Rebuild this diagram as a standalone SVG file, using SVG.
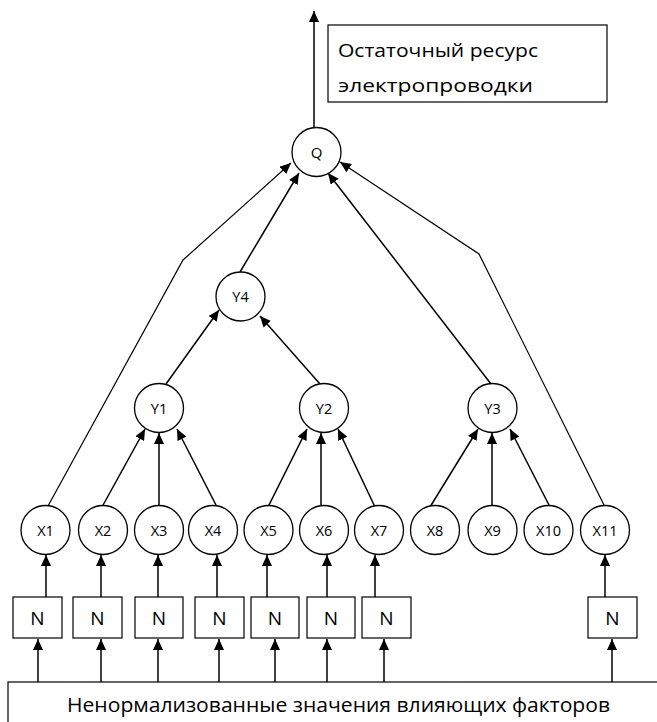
<svg xmlns="http://www.w3.org/2000/svg" width="657" height="722" viewBox="0 0 657 722">
<style>
.nd{fill:#fff;stroke:#000;stroke-width:1.3}
.bx{fill:#fff;stroke:#000;stroke-width:1.2}
.t{font-family:"Open Sans","Noto Sans","Liberation Sans",sans-serif;fill:#000;text-anchor:middle;dominant-baseline:central}
.s{font-size:14.5px}
.c{stroke:#000;stroke-width:1.5;fill:none;marker-end:url(#ah)}
.p{stroke:#000;stroke-width:1.2;fill:none;marker-end:url(#ah)}
</style>
<defs>
<marker id="ah" markerUnits="userSpaceOnUse" markerWidth="12" markerHeight="10" refX="11" refY="5" orient="auto">
<path d="M0,0 L11,5 L0,10 Z" fill="#000"/>
</marker>
</defs>
<rect width="657" height="722" fill="#fff"/>
<g id="connectors">
<line class="c" x1="314" y1="128" x2="314" y2="11"/>
<polyline class="p" points="48,506 183,260 291,163"/>
<polyline class="p" points="605,507 479,254 340,162"/>
<line class="c" x1="240" y1="272" x2="299" y2="173"/>
<line class="c" x1="491" y1="384" x2="328" y2="173"/>
<line class="c" x1="166" y1="384" x2="219" y2="310"/>
<line class="c" x1="320" y1="384" x2="260" y2="316"/>
<line class="c" x1="102" y1="507" x2="145" y2="429"/>
<line class="c" x1="159" y1="507" x2="159" y2="433"/>
<line class="c" x1="217" y1="507" x2="177" y2="429"/>
<line class="c" x1="268" y1="507" x2="307" y2="429"/>
<line class="c" x1="321" y1="507" x2="321" y2="433"/>
<line class="c" x1="375" y1="507" x2="338" y2="429"/>
<line class="c" x1="430" y1="507" x2="478" y2="429"/>
<line class="c" x1="492" y1="507" x2="492" y2="433"/>
<line class="c" x1="550" y1="507" x2="510" y2="429"/>
<line class="c" x1="46" y1="597" x2="46" y2="555"/>
<line class="c" x1="101" y1="597" x2="101" y2="555"/>
<line class="c" x1="158" y1="597" x2="158" y2="555"/>
<line class="c" x1="217" y1="597" x2="217" y2="555"/>
<line class="c" x1="267" y1="597" x2="267" y2="555"/>
<line class="c" x1="327" y1="597" x2="327" y2="555"/>
<line class="c" x1="375" y1="597" x2="375" y2="555"/>
<line class="c" x1="605" y1="597" x2="605" y2="555"/>
<line class="c" x1="38" y1="682" x2="38" y2="639"/>
<line class="c" x1="101" y1="682" x2="101" y2="639"/>
<line class="c" x1="158" y1="682" x2="158" y2="639"/>
<line class="c" x1="219" y1="682" x2="219" y2="639"/>
<line class="c" x1="275" y1="682" x2="275" y2="639"/>
<line class="c" x1="327" y1="682" x2="327" y2="639"/>
<line class="c" x1="384" y1="682" x2="384" y2="639"/>
<line class="c" x1="612" y1="682" x2="612" y2="639"/>
</g>
<g id="output-label">
<rect class="bx" x="328" y="25" width="279" height="77"/>
<text class="t" x="338" y="50" style="text-anchor:start;font-size:19px" textLength="200" lengthAdjust="spacingAndGlyphs">Остаточный ресурс</text>
<text class="t" x="338" y="85" style="text-anchor:start;font-size:19px" textLength="195" lengthAdjust="spacingAndGlyphs">электропроводки</text>
</g>
<g id="Q"><circle class="nd" cx="316.5" cy="152" r="24.5"/><text class="t" x="316.5" y="152" style="font-size:15px">Q</text></g>
<g id="Y4"><circle class="nd" cx="240.5" cy="296.5" r="24.5"/><text class="t s" x="240.5" y="296.5">Y4</text></g>
<g id="Y1"><circle class="nd" cx="159" cy="408" r="24.5"/><text class="t s" x="159" y="408">Y1</text></g>
<g id="Y2"><circle class="nd" cx="324" cy="408" r="24.5"/><text class="t s" x="324" y="408">Y2</text></g>
<g id="Y3"><circle class="nd" cx="492.5" cy="408" r="24.5"/><text class="t s" x="492.5" y="408">Y3</text></g>
<g id="X1"><circle class="nd" cx="45.5" cy="530" r="24.5"/><text class="t s" x="45.5" y="530">X1</text></g>
<g id="X2"><circle class="nd" cx="103" cy="530" r="24.5"/><text class="t s" x="103" y="530">X2</text></g>
<g id="X3"><circle class="nd" cx="159" cy="530" r="24.5"/><text class="t s" x="159" y="530">X3</text></g>
<g id="X4"><circle class="nd" cx="213" cy="530" r="24.5"/><text class="t s" x="213" y="530">X4</text></g>
<g id="X5"><circle class="nd" cx="268.5" cy="530" r="24.5"/><text class="t s" x="268.5" y="530">X5</text></g>
<g id="X6"><circle class="nd" cx="324" cy="530" r="24.5"/><text class="t s" x="324" y="530">X6</text></g>
<g id="X7"><circle class="nd" cx="379" cy="530" r="24.5"/><text class="t s" x="379" y="530">X7</text></g>
<g id="X8"><circle class="nd" cx="435" cy="530" r="24.5"/><text class="t s" x="435" y="530">X8</text></g>
<g id="X9"><circle class="nd" cx="492.5" cy="530" r="24.5"/><text class="t s" x="492.5" y="530">X9</text></g>
<g id="X10"><circle class="nd" cx="548.5" cy="530" r="24.5"/><text class="t s" x="548.5" y="530">X10</text></g>
<g id="X11"><circle class="nd" cx="605" cy="530" r="24.5"/><text class="t s" x="605" y="530">X11</text></g>
<g id="N1"><rect class="bx" x="13" y="597" width="49" height="41"/><text class="t" x="37.5" y="617.5" style="font-size:19px">N</text></g>
<g id="N2"><rect class="bx" x="73" y="597" width="49" height="41"/><text class="t" x="97.5" y="617.5" style="font-size:19px">N</text></g>
<g id="N3"><rect class="bx" x="135" y="597" width="48" height="41"/><text class="t" x="159" y="617.5" style="font-size:19px">N</text></g>
<g id="N4"><rect class="bx" x="195" y="597" width="49" height="41"/><text class="t" x="219.5" y="617.5" style="font-size:19px">N</text></g>
<g id="N5"><rect class="bx" x="251" y="597" width="48" height="41"/><text class="t" x="275" y="617.5" style="font-size:19px">N</text></g>
<g id="N6"><rect class="bx" x="307" y="597" width="48" height="41"/><text class="t" x="331" y="617.5" style="font-size:19px">N</text></g>
<g id="N7"><rect class="bx" x="362" y="597" width="49" height="41"/><text class="t" x="386.5" y="617.5" style="font-size:19px">N</text></g>
<g id="N11"><rect class="bx" x="588" y="597" width="49" height="41"/><text class="t" x="612.5" y="617.5" style="font-size:19px">N</text></g>
<g id="input">
<rect class="bx" x="8" y="682" width="660" height="60"/>
<text class="t" x="338.5" y="704" style="font-size:20px" textLength="543" lengthAdjust="spacingAndGlyphs">Ненормализованные значения влияющих факторов</text>
</g>
</svg>
